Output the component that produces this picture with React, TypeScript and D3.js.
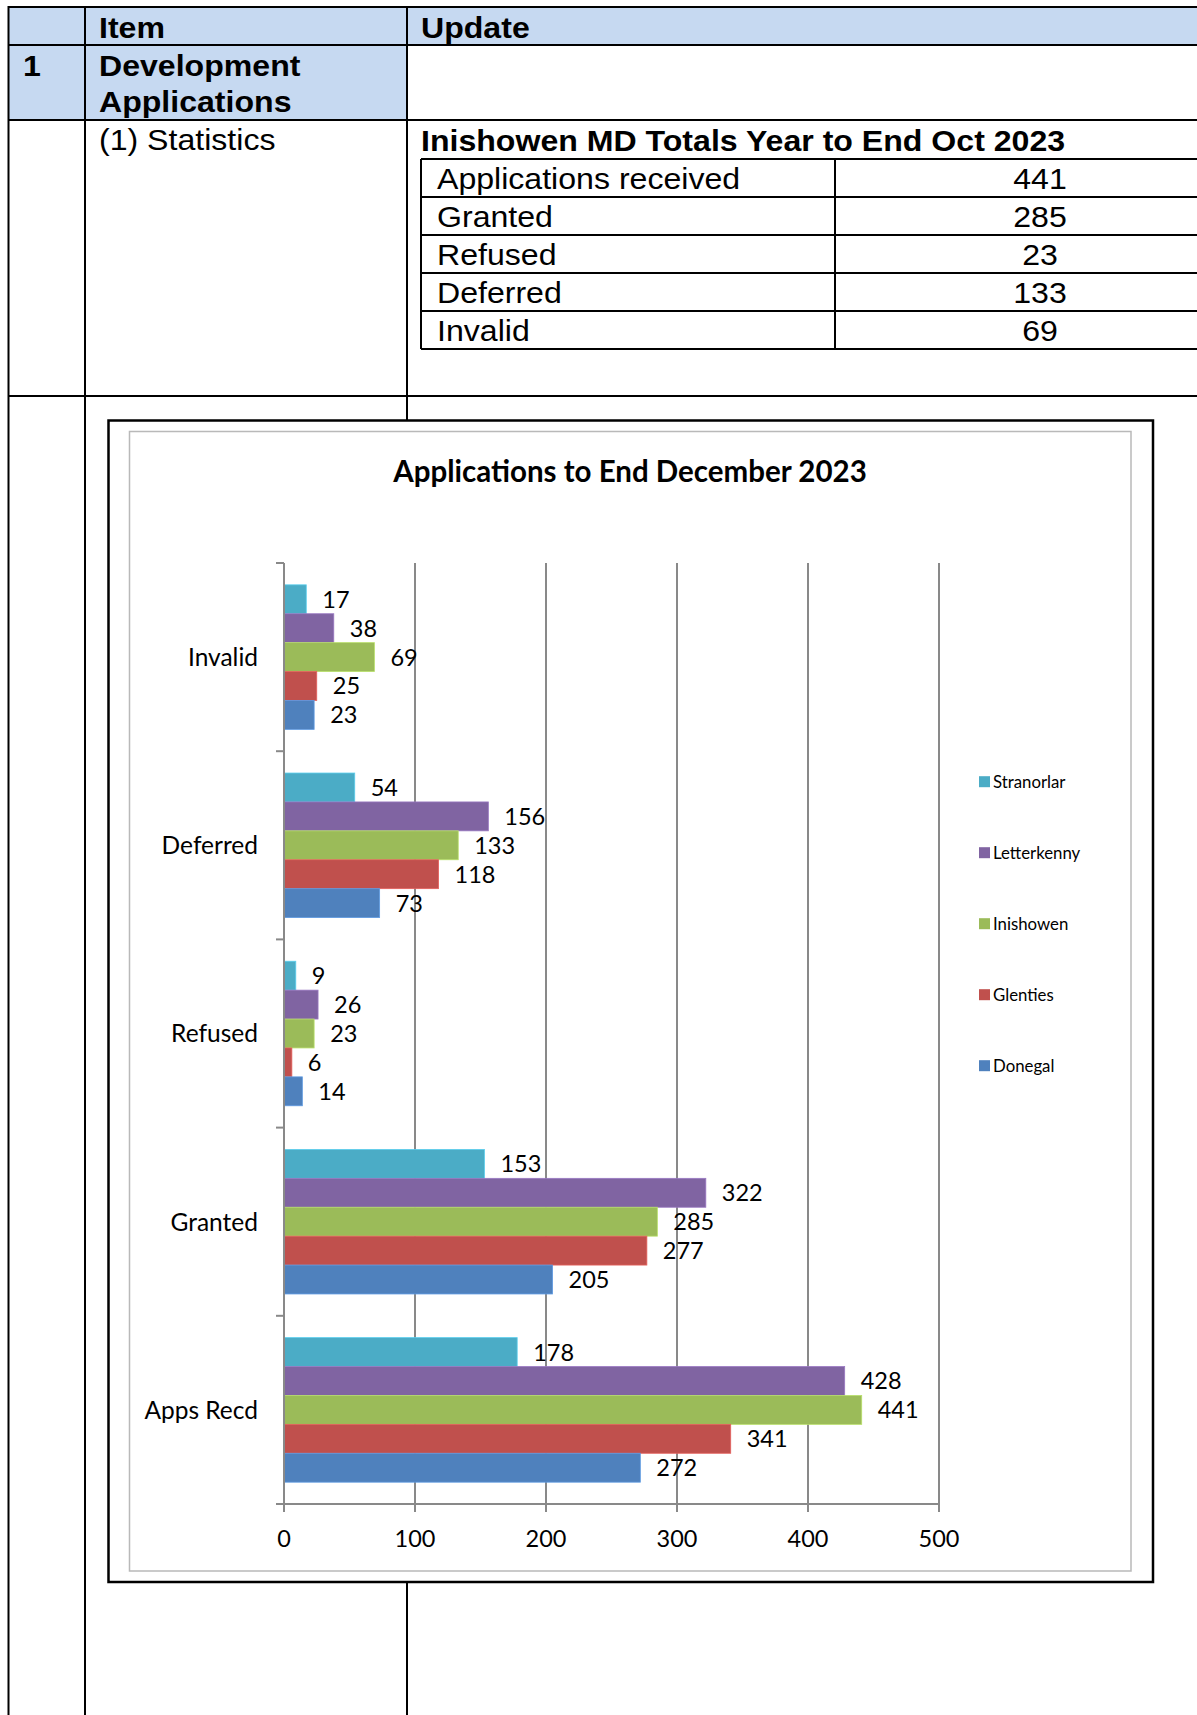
import React, { useRef, useEffect } from "react";
import * as d3 from "d3";

// chart data
const categories = ["Invalid", "Deferred", "Refused", "Granted", "Apps Recd"];
const seriesNames = ["Stranorlar", "Letterkenny", "Inishowen", "Glenties", "Donegal"];
const seriesColors = ["#4BACC6", "#8064A2", "#9BBB59", "#C0504D", "#4F81BD"];
const stranorlar = [17, 54, 9, 153, 178];
const letterkenny = [38, 156, 26, 322, 428];
const inishowen = [69, 133, 23, 285, 441];
const glenties = [25, 118, 6, 277, 341];
const donegal = [23, 73, 14, 205, 272];
const xTicks = [0, 100, 200, 300, 400, 500];

// summary table
const totalsLabels = ["Applications received", "Granted", "Refused", "Deferred", "Invalid"];
const totalsValues = [441, 285, 23, 133, 69];

const seriesValues = [stranorlar, letterkenny, inishowen, glenties, donegal];

const W = 1197;
const H = 1715;
const ARIAL = "'Liberation Sans', Arial, sans-serif";
const CAL = "Lato, 'Open Sans', sans-serif";

// doc text is a bit wider than plain Arial, so stretch it a little
const T = ({ x, y, bold, anchor, children }: any) => (
  <text
    transform={`translate(${x},${y}) scale(1.07,1)`}
    fontWeight={bold ? 700 : 400}
    textAnchor={anchor || "start"}
  >
    {children}
  </text>
);

const App = () => {
  const ref = useRef<SVGGElement>(null);

  useEffect(() => {
    document.body.style.margin = "0";
    document.body.style.overflow = "hidden";

    const g = d3.select(ref.current);
    g.selectAll("*").remove();

    const x = d3.scaleLinear().domain([0, 500]).range([284, 939]);
    const y = d3.scaleBand().domain(categories).range([563, 1504]);
    const inner = d3
      .scaleBand()
      .domain(seriesNames)
      .range([0, y.bandwidth()])
      .paddingOuter(0.755);

    // chart boxes
    g.append("rect")
      .attr("x", 108.5)
      .attr("y", 420.5)
      .attr("width", 1153 - 108.5)
      .attr("height", 1582 - 420.5)
      .attr("fill", "#fff")
      .attr("stroke", "#000")
      .attr("stroke-width", 2.5);
    g.append("rect")
      .attr("x", 129.5)
      .attr("y", 431.5)
      .attr("width", 1131 - 129.5)
      .attr("height", 1571 - 431.5)
      .attr("fill", "#fff")
      .attr("stroke", "#b9b9b9")
      .attr("stroke-width", 1.5);

    g.append("text")
      .attr("x", 630)
      .attr("y", 482)
      .attr("text-anchor", "middle")
      .attr("font-family", CAL)
      .attr("font-weight", 700)
      .attr("font-size", 29.5)
      .text("Applications to End December 2023");

    // gridlines
    g.append("g")
      .selectAll("line")
      .data(xTicks.slice(1))
      .join("line")
      .attr("x1", (d) => x(d))
      .attr("x2", (d) => x(d))
      .attr("y1", 563)
      .attr("y2", 1504)
      .attr("stroke", "#898989")
      .attr("stroke-width", 2);

    // bars
    const rows = categories.flatMap((c, ci) =>
      seriesNames.map((s, si) => ({ c, s, v: seriesValues[si][ci], color: seriesColors[si] }))
    );
    g.append("g")
      .selectAll("rect")
      .data(rows)
      .join("rect")
      .attr("x", x(0))
      .attr("y", (d) => y(d.c)! + inner(d.s)!)
      .attr("width", (d) => x(d.v) - x(0))
      .attr("height", inner.bandwidth())
      .attr("fill", (d) => d.color)
      .attr("stroke", (d) => d3.color(d.color)!.brighter(0.5).formatHex())
      .attr("stroke-width", 0.8);

    g.append("g")
      .selectAll("text")
      .data(rows)
      .join("text")
      .attr("x", (d) => x(d.v) + 16)
      .attr("y", (d) => y(d.c)! + inner(d.s)! + inner.bandwidth() / 2)
      .attr("dy", "0.36em")
      .attr("font-family", CAL)
      .attr("font-size", 23.5)
      .text((d) => d.v);

    // category axis
    g.append("line")
      .attr("x1", x(0))
      .attr("x2", x(0))
      .attr("y1", 563)
      .attr("y2", 1512)
      .attr("stroke", "#898989")
      .attr("stroke-width", 2);
    const bounds = categories.map((c) => y(c)!).concat([1504]);
    g.append("g")
      .selectAll("line")
      .data(bounds)
      .join("line")
      .attr("x1", 276)
      .attr("x2", x(0))
      .attr("y1", (d) => d)
      .attr("y2", (d) => d)
      .attr("stroke", "#898989")
      .attr("stroke-width", 2);
    g.append("g")
      .selectAll("text")
      .data(categories)
      .join("text")
      .attr("x", 258)
      .attr("y", (d) => y(d)! + y.bandwidth() / 2)
      .attr("dy", "0.36em")
      .attr("text-anchor", "end")
      .attr("font-family", CAL)
      .attr("font-size", 24.5)
      .text((d) => d);

    // value axis
    g.append("line")
      .attr("x1", 276)
      .attr("x2", x(500))
      .attr("y1", 1504)
      .attr("y2", 1504)
      .attr("stroke", "#898989")
      .attr("stroke-width", 2);
    g.append("g")
      .selectAll("line")
      .data(xTicks)
      .join("line")
      .attr("x1", (d) => x(d))
      .attr("x2", (d) => x(d))
      .attr("y1", 1504)
      .attr("y2", 1512)
      .attr("stroke", "#898989")
      .attr("stroke-width", 2);
    g.append("g")
      .selectAll("text")
      .data(xTicks)
      .join("text")
      .attr("x", (d) => x(d))
      .attr("y", 1539)
      .attr("dy", "0.36em")
      .attr("text-anchor", "middle")
      .attr("font-family", CAL)
      .attr("font-size", 23.5)
      .text((d) => d);

    // legend
    const leg = g
      .append("g")
      .selectAll("g")
      .data(seriesNames)
      .join("g")
      .attr("transform", (d, i) => `translate(979,${781.7 + i * 71})`);
    leg
      .append("rect")
      .attr("x", 0)
      .attr("y", -5.5)
      .attr("width", 11)
      .attr("height", 11)
      .attr("fill", (d, i) => seriesColors[i]);
    leg
      .append("text")
      .attr("x", 14)
      .attr("dy", "0.36em")
      .attr("font-family", CAL)
      .attr("font-size", 16.8)
      .text((d) => d);
  }, []);

  const rowTop = 159;
  const rowH = 38;

  return (
    <svg
      width={W}
      height={H}
      style={{ position: "absolute", left: 0, top: 0, background: "#fff" }}
    >
      {/* blue header cells */}
      <rect x={8.5} y={7} width={W - 8.5} height={38} fill="#c6d9f1" />
      <rect x={8.5} y={45} width={407 - 8.5} height={75} fill="#c6d9f1" />

      {/* outer table grid */}
      <g stroke="#000" strokeWidth={2}>
        <line x1={8.5} x2={W} y1={7} y2={7} />
        <line x1={8.5} x2={W} y1={45} y2={45} />
        <line x1={8.5} x2={W} y1={120} y2={120} />
        <line x1={8.5} x2={W} y1={396} y2={396} />
        <line x1={8.5} x2={8.5} y1={6} y2={H} />
        <line x1={85} x2={85} y1={7} y2={H} />
        <line x1={407} x2={407} y1={7} y2={H} />
      </g>

      <g fontFamily={ARIAL} fontSize={30}>
        <T x={99} y={38} bold>Item</T>
        <T x={421} y={38} bold>Update</T>
        <T x={23} y={76} bold>1</T>
        <T x={99} y={76} bold>Development</T>
        <T x={99} y={112} bold>Applications</T>
        <T x={99} y={150}>(1) Statistics</T>
        <T x={421} y={151} bold>Inishowen MD Totals Year to End Oct 2023</T>
      </g>

      {/* totals table */}
      <g stroke="#000" strokeWidth={2}>
        {totalsLabels.map((_, i) => (
          <line key={i} x1={421} x2={W} y1={rowTop + i * rowH} y2={rowTop + i * rowH} />
        ))}
        <line x1={421} x2={W} y1={rowTop + 5 * rowH} y2={rowTop + 5 * rowH} />
        <line x1={421} x2={421} y1={rowTop} y2={rowTop + 5 * rowH} />
        <line x1={835} x2={835} y1={rowTop} y2={rowTop + 5 * rowH} />
      </g>
      <g fontFamily={ARIAL} fontSize={30}>
        {totalsLabels.map((l, i) => (
          <T key={l} x={437} y={rowTop + i * rowH + 30}>{l}</T>
        ))}
        {totalsValues.map((v, i) => (
          <T key={i} x={1040} y={rowTop + i * rowH + 30} anchor="middle">{v}</T>
        ))}
      </g>

      <g ref={ref} />
    </svg>
  );
};

export default App;
